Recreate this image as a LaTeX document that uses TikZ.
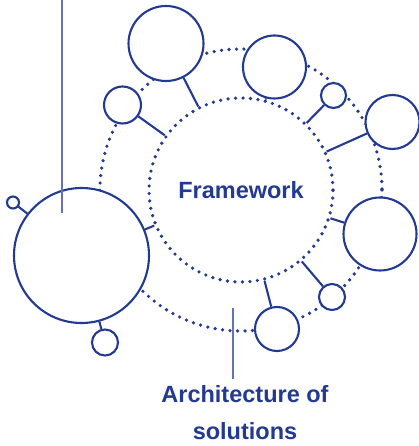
\documentclass[tikz,border=0pt]{standalone}
\usepackage{fontspec}
\setmainfont{Liberation Sans}
\usepackage{tikz}

\definecolor{frameblue}{RGB}{34,58,145}
\definecolor{leaderblue}{RGB}{100,114,184}

\tikzset{
    dotring/.style={draw=frameblue, line width=3.6pt, line cap=round, dash pattern=on 0pt off 7.5pt},
    sat/.style={circle, draw=frameblue, line width=2.1pt, fill=white, inner sep=0pt},
    link/.style={draw=frameblue, line width=2.1pt},
    leader/.style={draw=leaderblue, line width=1.3pt},
    bluetext/.style={text=frameblue, font=\fontsize{23.5}{37}\selectfont\bfseries}
}

\begin{document}
\begin{tikzpicture}[x=1pt, y=-1pt]
    \useasboundingbox (0,0) rectangle (419,446);

    % Define the centre of both rings
    \coordinate (c) at (241,190);

    % Draw the outer dotted ring
    \draw[dotring] (c) circle [radius=141];

    % Draw the satellites sitting on the outer ring
    \node[sat, minimum size=75] (s1) at (166,43.5) {};
    \node[sat, minimum size=37] (s2) at (122.5,105) {};
    \node[sat, minimum size=63] (s3) at (274.5,67) {};
    \node[sat, minimum size=25] (s4) at (333.5,95.5) {};
    \node[sat, minimum size=54] (s5) at (392.5,122) {};
    \node[sat, minimum size=73] (s6) at (380,234) {};
    \node[sat, minimum size=26] (s7) at (332,297) {};
    \node[sat, minimum size=44] (s8) at (277,329) {};
    \node[sat, minimum size=135] (s9) at (81.5,255.5) {};
    \node[sat, minimum size=12] (t1) at (13,202.5) {};
    \node[sat, minimum size=26] (t2) at (105,342.5) {};

    % Draw the inner dotted ring
    \node[circle, dotring, minimum size=184, inner sep=0pt, bluetext] (fw) at (c) {Framework};

    % Draw the links to the inner ring
    \draw[link] (fw) -- (s1);
    \draw[link] (fw) -- (s2);
    \draw[link] (fw) -- (s3);
    \draw[link] (fw) -- (s4);
    \draw[link] (fw) -- (s5);
    \draw[link] (fw) -- (s6);
    \draw[link] (fw) -- (s7);
    \draw[link] (fw) -- (s8);
    \draw[link] (fw) -- (s9);
    \draw[link] (t1) -- (s9);
    \draw[link] (t2) -- (s9);

    % Draw the label and the leader lines
    \node[bluetext, align=center, anchor=north, inner sep=0pt] (arch) at (245,385) {Architecture of\\solutions};
    \coordinate (lt) at (62,0);
    \coordinate (lb) at (62,213);
    \coordinate (ar) at (233,308);
    \coordinate (al) at (233,379);
    \draw[leader] (lt) -- (lb);
    \draw[leader] (ar) -- (al);
\end{tikzpicture}
\end{document}
